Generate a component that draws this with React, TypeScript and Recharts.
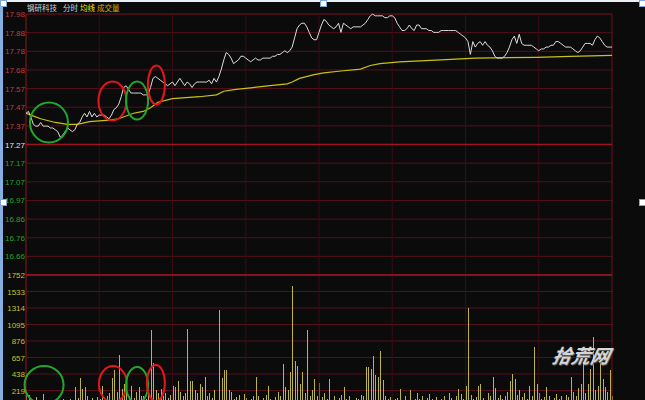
import React from "react";
import {
  ComposedChart,
  Line,
  Bar,
  XAxis,
  YAxis,
  CartesianGrid,
  ReferenceLine,
  ReferenceDot,
} from "recharts";

// intraday (分时) chart, 240 trading minutes
const stockName = "钢研科技";
const prevClose = 17.27;
const maxPct = 4.11;

const priceLabels = [
  "17.98", "17.88", "17.78", "17.68", "17.57", "17.47", "17.37",
  "17.27",
  "17.17", "17.07", "16.97", "16.86", "16.76", "16.66",
];
const pctLabels = [
  "4.11%", "3.52%", "2.94%", "2.35%", "1.76%", "1.17%", "0.59%",
  "0.00%",
  "0.59%", "1.17%", "1.76%", "2.35%", "2.94%", "3.52%",
];
const volumeTicks = [219, 438, 657, 876, 1095, 1314, 1533, 1752];
const timeTicks = [0, 30, 60, 90, 120, 150, 180, 210, 240];

// last price per minute
const prices = [
  17.44, 17.45, 17.42, 17.38, 17.37, 17.37, 17.39, 17.37, 17.37, 17.37,
  17.36, 17.36, 17.35, 17.34, 17.31, 17.32, 17.34, 17.36, 17.35, 17.34,
  17.35, 17.38, 17.39, 17.42, 17.44, 17.42, 17.45, 17.42, 17.44, 17.42,
  17.43, 17.43, 17.43, 17.42, 17.41, 17.43, 17.46, 17.47, 17.49, 17.53,
  17.58, 17.59, 17.57, 17.55, 17.55, 17.55, 17.55, 17.55, 17.54, 17.54,
  17.54, 17.58, 17.63, 17.64, 17.63, 17.62, 17.61, 17.6, 17.59, 17.6,
  17.61, 17.59, 17.61, 17.63, 17.61, 17.59, 17.61, 17.6, 17.58, 17.6,
  17.61, 17.61, 17.61, 17.61, 17.61, 17.62, 17.6, 17.63, 17.61, 17.64,
  17.68, 17.73, 17.77, 17.76, 17.74, 17.71, 17.72, 17.73, 17.75, 17.75,
  17.74, 17.73, 17.72, 17.73, 17.74, 17.73, 17.73, 17.74, 17.74, 17.74,
  17.74, 17.75, 17.75, 17.76, 17.76, 17.77, 17.78, 17.77, 17.78, 17.8,
  17.85, 17.9, 17.92, 17.93, 17.93, 17.91, 17.88, 17.85, 17.84, 17.84,
  17.88, 17.92, 17.95, 17.94, 17.92, 17.91, 17.9, 17.91, 17.93, 17.88,
  17.93, 17.92, 17.91, 17.9, 17.91, 17.91, 17.91, 17.91, 17.92, 17.93,
  17.95, 17.97, 17.98, 17.97, 17.97, 17.97, 17.97, 17.96, 17.96, 17.97,
  17.97, 17.96, 17.93, 17.91, 17.89, 17.89, 17.9, 17.92, 17.9, 17.89,
  17.92, 17.92, 17.9, 17.9, 17.9, 17.89, 17.89, 17.88, 17.88, 17.88,
  17.89, 17.89, 17.89, 17.89, 17.89, 17.89, 17.89, 17.88, 17.87, 17.86,
  17.85, 17.83, 17.76, 17.83, 17.8, 17.82, 17.83, 17.81, 17.83, 17.81,
  17.8, 17.78, 17.75, 17.74, 17.74, 17.74, 17.75, 17.77, 17.8, 17.84,
  17.86, 17.82, 17.87, 17.82, 17.81, 17.81, 17.81, 17.81, 17.8, 17.79,
  17.78, 17.79, 17.79, 17.8, 17.8, 17.81, 17.81, 17.83, 17.83, 17.82,
  17.81, 17.8, 17.8, 17.8, 17.79, 17.78, 17.77, 17.78, 17.8, 17.82,
  17.82, 17.82, 17.81, 17.84, 17.86, 17.85, 17.83, 17.81, 17.8, 17.8,
  17.8,
];

// average price line, [minute, price]
const avgPoints: [number, number][] = [
  [0, 17.44], [2, 17.43], [6, 17.41], [12, 17.39], [17, 17.38], [21, 17.38],
  [26, 17.395], [34, 17.403], [38, 17.41], [44, 17.44], [48, 17.45],
  [51, 17.47], [54, 17.5], [60, 17.52], [71, 17.53], [78, 17.54],
  [81, 17.56], [86, 17.57], [93, 17.58], [100, 17.59], [107, 17.6],
  [109, 17.61], [112, 17.63], [118, 17.65], [122, 17.66], [129, 17.67],
  [137, 17.68], [141, 17.7], [145, 17.71], [153, 17.72], [170, 17.73],
  [184, 17.74], [209, 17.744], [223, 17.75], [240, 17.755],
];

// volume per minute
const volumes = [
  190, 160, 60, 90, 130, 70, 80, 170, 50, 60,
  40, 70, 50, 90, 60, 110, 80, 60, 100, 90,
  270, 120, 380, 245, 270, 150, 90, 120, 60, 130,
  110, 280, 90, 140, 180, 380, 485, 200, 685, 240,
  310, 400, 150, 285, 120, 200, 260, 140, 150, 110,
  170, 1028, 580, 220, 190, 240, 150, 190, 120, 160,
  285, 260, 340, 200, 150, 180, 1040, 350, 340, 220,
  180, 310, 260, 395, 140, 180, 120, 220, 90, 1285,
  380, 485, 485, 220, 200, 110, 130, 160, 90, 175,
  120, 80, 100, 150, 395, 140, 90, 120, 160, 285,
  110, 90, 130, 200, 150, 565, 260, 220, 463, 1600,
  605, 550, 300, 463, 180, 1018, 140, 220, 370, 150,
  320, 130, 180, 110, 375, 90, 140, 80, 120, 160,
  272, 100, 140, 90, 80, 120, 110, 160, 140, 530,
  530, 510, 672, 420, 395, 740, 360, 150, 100, 130,
  90, 110, 120, 240, 80, 150, 90, 230, 70, 110,
  180, 100, 150, 90, 120, 170, 100, 80, 130, 90,
  110, 150, 80, 190, 120, 90, 140, 245, 170, 110,
  285, 1320, 160, 110, 130, 285, 310, 120, 90, 180,
  150, 395, 250, 120, 160, 100, 140, 200, 350, 440,
  375, 160, 220, 130, 180, 110, 285, 150, 796, 310,
  180, 100, 130, 260, 150, 90, 120, 170, 110, 140,
  90, 160, 130, 395, 200, 150, 250, 310, 596, 180,
  310, 508, 930, 220, 285, 620, 375, 260, 200, 495,
  150,
];

// hand-drawn circles on the screenshot: [minute, value]
const priceRings: [number, number][] = [
  [9.4, 17.39], [35.4, 17.507], [45.5, 17.509], [53.4, 17.594],
];
const volumeRings: [number, number][] = [
  [7.4, 292], [35.6, 305], [45.5, 292], [53.2, 318],
];
const ringKinds = ["green", "red", "green", "red"];

const ringSizes = [
  [19, 20], [14, 19.5], [11, 19], [8.5, 19.5],
];
const volRingSizes = [
  [19.5, 19], [14, 18], [11, 18], [9, 18],
];

const COLORS = {
  bg: "#0b0b0c",
  grid: "#55101a",
  gridV: "#3a0d12",
  strong: "#9c1420",
  price: "#dcdcdc",
  avg: "#c9c212",
  vol: "#bcb448",
  up: "#c83a3a",
  down: "#27a12a",
  flat: "#e4e4e4",
  volText: "#c8c02a",
  ringGreen: "#22a52c",
  ringRed: "#e3161c",
};

const step = (prevClose * maxPct) / 100 / 7;
const priceTickValues = priceLabels.map((_, i) => prevClose + (7 - i) * step);
const priceDomain = [prevClose - 7 * step, prevClose + 7 * step];

const priceData = prices.map((price, t) => ({ t, price }));
const avgData = avgPoints.map(([t, avg]) => ({ t, avg }));
const volumeData = volumes.map((vol, t) => ({ t, vol }));

const FONT = "'Liberation Sans', Arial, sans-serif";
const CJK = "'Noto Sans CJK SC', sans-serif";

const tickIndex = (v: number) =>
  priceTickValues.findIndex((p) => Math.abs(p - v) < 1e-6);

const tickColor = (i: number) =>
  i < 7 ? COLORS.up : i === 7 ? COLORS.flat : COLORS.down;

const PriceTick = (props: any) => {
  const { y, payload } = props;
  const i = tickIndex(payload.value);
  if (i < 0) return null;
  return (
    <text x={25} y={y} dy={3} textAnchor="end" fontSize={8} fontFamily={FONT} fill={tickColor(i)}>
      {priceLabels[i]}
    </text>
  );
};

const PctTick = (props: any) => {
  const { y, payload } = props;
  const i = tickIndex(payload.value);
  if (i < 0) return null;
  return (
    <text x={615} y={y} dy={3} textAnchor="start" fontSize={8} fontFamily={FONT} fill={tickColor(i)}>
      {pctLabels[i]}
    </text>
  );
};

const VolTick = (props: any) => {
  const { y, payload, side } = props;
  return (
    <text
      x={side === "left" ? 25 : 616}
      y={y}
      dy={3}
      textAnchor={side === "left" ? "end" : "start"}
      fontSize={8}
      fontFamily={FONT}
      fill={COLORS.volText}
    >
      {payload.value}
    </text>
  );
};

// 1px volume stick snapped to the pixel grid
const VolStick = (p: any) => {
  if (!p.height || p.height <= 0) return null;
  return (
    <rect
      x={Math.round(p.x + p.width / 2)}
      y={p.y}
      width={1}
      height={p.height}
      fill={COLORS.vol}
      shapeRendering="crispEdges"
    />
  );
};

const ringShape = (rx: number, ry: number, color: string) => (p: any) =>
  (
    <ellipse
      cx={p.cx}
      cy={p.cy}
      rx={rx}
      ry={ry}
      fill="none"
      stroke={color === "green" ? COLORS.ringGreen : COLORS.ringRed}
      strokeWidth={2}
    />
  );

const verticalLines = (axisId: string) =>
  timeTicks.map((t) => (
    <ReferenceLine
      key={"v" + t}
      x={t}
      yAxisId={axisId}
      stroke={t === 0 ? "#8a1a1c" : t === 240 ? "#6a1218" : COLORS.gridV}
      strokeWidth={1}
    />
  ));

const handle = (left: number, top: number) => (
  <div
    style={{
      position: "absolute",
      left,
      top,
      width: 5,
      height: 5,
      background: "#ffffff",
      border: "1px solid #7ea6dc",
    }}
  />
);

export default function App() {
  return (
    <div
      style={{
        position: "absolute",
        left: 0,
        top: 0,
        width: 645,
        height: 400,
        overflow: "hidden",
        background: COLORS.bg,
      }}
    >
      <div style={{ position: "absolute", left: 0, top: 0 }}>
        <ComposedChart
          width={645}
          height={285}
          data={priceData}
          margin={{ top: 14, right: 0, bottom: 10, left: 0 }}
        >
          <XAxis dataKey="t" type="number" domain={[0, 240]} ticks={timeTicks} hide />
          <YAxis
            yAxisId="p"
            orientation="left"
            width={26}
            domain={priceDomain}
            ticks={priceTickValues}
            interval={0}
            axisLine={false}
            tickLine={false}
            tick={<PriceTick />}
          />
          <YAxis
            yAxisId="pct"
            orientation="right"
            width={33}
            domain={priceDomain}
            ticks={priceTickValues}
            interval={0}
            axisLine={false}
            tickLine={false}
            tick={<PctTick />}
          />
          <CartesianGrid yAxisId="p" vertical={false} stroke={COLORS.grid} />
          {verticalLines("p")}
          <ReferenceLine yAxisId="p" y={prevClose} stroke={COLORS.strong} strokeWidth={1.5} />
          <Line
            yAxisId="p"
            data={avgData}
            dataKey="avg"
            type="linear"
            stroke={COLORS.avg}
            strokeWidth={1.2}
            dot={false}
            isAnimationActive={false}
          />
          <Line
            yAxisId="p"
            dataKey="price"
            type="linear"
            stroke={COLORS.price}
            strokeWidth={1}
            dot={false}
            isAnimationActive={false}
          />
          {priceRings.map(([t, v], i) => (
            <ReferenceDot
              key={"pr" + i}
              x={t}
              y={v}
              yAxisId="p"
              r={1}
              shape={ringShape(ringSizes[i][0], ringSizes[i][1], ringKinds[i])}
            />
          ))}
        </ComposedChart>
      </div>

      <div style={{ position: "absolute", left: 0, top: 265 }}>
        <ComposedChart
          width={645}
          height={145}
          data={volumeData}
          margin={{ top: 10, right: 0, bottom: 3, left: 0 }}
        >
          <XAxis dataKey="t" type="number" domain={[0, 240]} ticks={timeTicks} hide />
          <YAxis
            yAxisId="v"
            orientation="left"
            width={26}
            domain={[0, 1752]}
            ticks={volumeTicks}
            interval={0}
            axisLine={false}
            tickLine={false}
            tick={<VolTick side="left" />}
          />
          <YAxis
            yAxisId="v2"
            orientation="right"
            width={33}
            domain={[0, 1752]}
            ticks={volumeTicks}
            interval={0}
            axisLine={false}
            tickLine={false}
            tick={<VolTick side="right" />}
          />
          <CartesianGrid yAxisId="v" vertical={false} stroke={COLORS.grid} />
          {verticalLines("v")}
          <ReferenceLine yAxisId="v" y={1752} stroke={COLORS.strong} strokeWidth={1.5} />
          <Bar
            yAxisId="v"
            dataKey="vol"
            fill={COLORS.vol}
            barSize={1}
            shape={<VolStick />}
            isAnimationActive={false}
          />
          {volumeRings.map(([t, v], i) => (
            <ReferenceDot
              key={"vr" + i}
              x={t}
              y={v}
              yAxisId="v"
              r={1}
              shape={ringShape(volRingSizes[i][0], volRingSizes[i][1], ringKinds[i])}
            />
          ))}
        </ComposedChart>
      </div>

      {/* header */}
      <div
        style={{
          position: "absolute",
          left: 27,
          top: 3,
          fontFamily: CJK,
          fontSize: 7.5,
          lineHeight: "10px",
          whiteSpace: "nowrap",
        }}
      >
        <span style={{ color: "#d4d4d4" }}>{stockName}</span>
        <span style={{ color: "#d4d4d4", marginLeft: 6 }}>分时</span>
        <span style={{ color: "#f0e400", marginLeft: 2 }}>均线</span>
        <span style={{ color: "#d8b000", marginLeft: 2 }}>成交量</span>
      </div>

      {/* watermark */}
      <div
        style={{
          position: "absolute",
          left: 553,
          top: 341,
          fontFamily: CJK,
          fontSize: 19,
          fontStyle: "italic",
          fontWeight: 700,
          color: "#d6d6d6",
          textShadow: "1px 1px 0 #5a5a5a",
          transform: "skewX(-12deg)",
          whiteSpace: "nowrap",
        }}
      >
        拾荒网
      </div>

      {/* screenshot frame */}
      <div style={{ position: "absolute", left: 0, top: 0, width: 645, height: 2, background: "#e9eef7" }} />
      <div style={{ position: "absolute", left: 0, top: 0, width: 3, height: 400, background: "#86aee0" }} />
      {handle(0, 0)}
      {handle(320, 0)}
      {handle(639, 0)}
      {handle(0, 199)}
      {handle(639, 199)}
    </div>
  );
}
